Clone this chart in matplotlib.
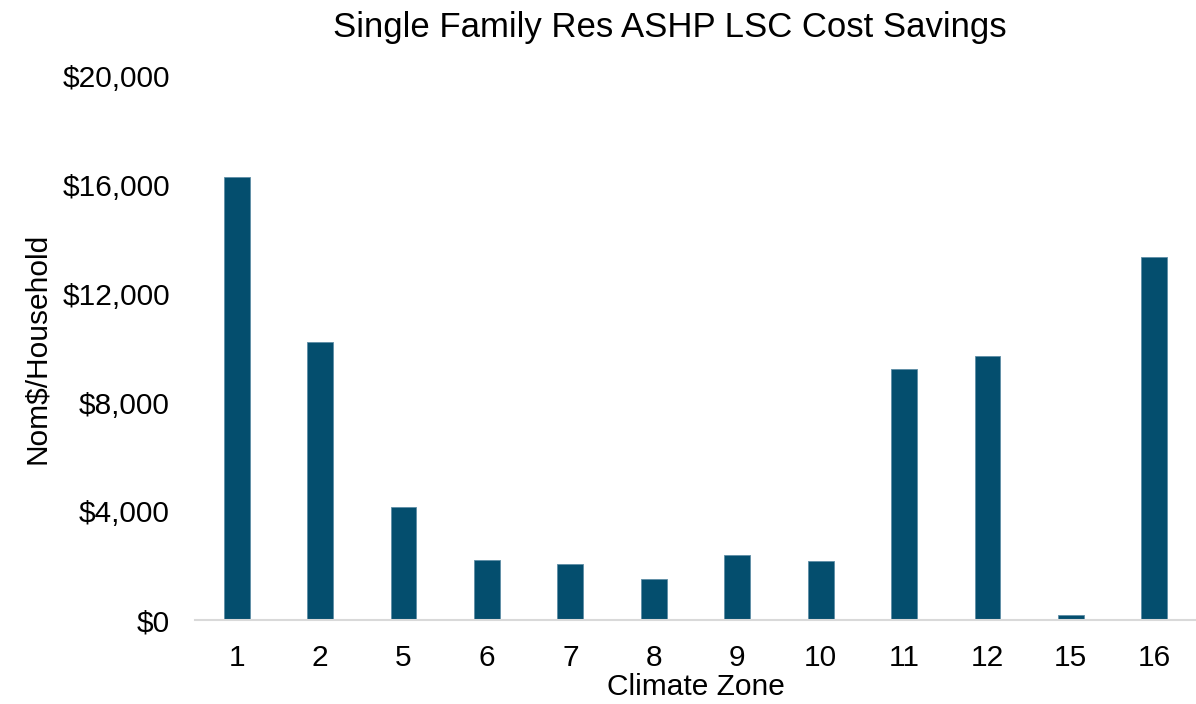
import matplotlib.pyplot as plt
from matplotlib.ticker import FuncFormatter

zones = ['1', '2', '5', '6', '7', '8', '9', '10', '11', '12', '15', '16']
savings = [16290, 10230, 4170, 2200, 2050, 1530, 2380, 2170, 9240, 9720, 180, 13350]

plt.rcParams['font.family'] = ['Liberation Sans', 'DejaVu Sans']

fig = plt.figure(figsize=(11.96, 7.04), dpi=100)
ax = fig.add_axes([0.163, 0.119, 0.837, 0.773])

ax.bar(range(len(zones)), savings, width=0.31, color='#044E6E', edgecolor='#5E8EA6', linewidth=0.6)

ax.set_xlim(-0.5, len(zones) - 0.5)
ax.set_ylim(0, 20000)
ax.set_yticks([0, 4000, 8000, 12000, 16000, 20000])
ax.yaxis.set_major_formatter(FuncFormatter(lambda v, p: f'${v:,.0f}'))
ax.set_xticks(range(len(zones)))
ax.set_xticklabels(zones)

for s in ['top', 'right', 'left']:
    ax.spines[s].set_visible(False)
ax.spines['bottom'].set_color('#D9D9D9')
ax.spines['bottom'].set_linewidth(1.5)

ax.tick_params(axis='y', length=0, pad=18, labelsize=21.5)
ax.tick_params(axis='x', length=0, pad=17, labelsize=21.5)

ax.set_xlabel('Climate Zone', fontsize=21.5, labelpad=1)
ax.set_ylabel('Nom$/Household', fontsize=21.5, labelpad=8)
fig.suptitle('Single Family Res ASHP LSC Cost Savings', fontsize=25, x=0.56, y=0.985)

fig.savefig('out.png', dpi=100)
